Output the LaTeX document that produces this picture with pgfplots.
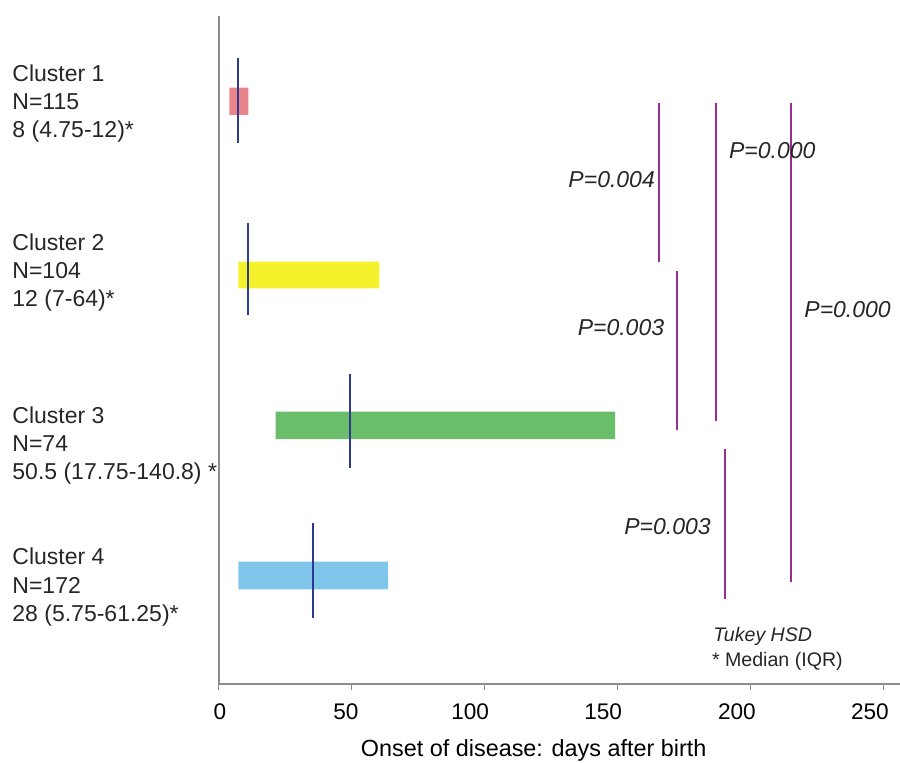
\documentclass[border=0pt]{standalone}
\usepackage{fontspec}
\setmainfont{Liberation Sans}
\usepackage{pgfplots}
\pgfplotsset{compat=1.18}
\definecolor{barA}{HTML}{E8848A}
\definecolor{barB}{HTML}{F5F22C}
\definecolor{barC}{HTML}{69BD6B}
\definecolor{barD}{HTML}{80C6EA}
\definecolor{medc}{HTML}{2E3A8E}
\definecolor{pcol}{HTML}{9B2D8F}
\definecolor{axc}{HTML}{8C8C8C}
\begin{document}
\begin{tikzpicture}
\useasboundingbox (-109.375pt,-39pt) rectangle (340.625pt,342pt);
\begin{axis}[
  at={(0,0)}, anchor=south west,
  scale only axis, width=340.625pt, height=334pt,
  xmin=0, xmax=256.1, ymin=0, ymax=668,
  axis x line*=bottom, axis y line*=left,
  axis line style={-, color=axc, line width=0.8pt},
  ytick=\empty,
  xtick={0,50,100,150,200,250}, xticklabels={},
  tick align=outside, major tick length=3pt,
  tick style={color=axc, line width=0.6pt},
  extra x ticks={0.47,47.8,94.5,144.5,194.8,244.8},
  extra x tick labels={0,50,100,150,200,250},
  extra x tick style={major tick length=0pt},
  /pgf/number format/assume math mode=true,
  xticklabel style={font=\fontsize{11.3}{13}\selectfont, anchor=center, yshift=-14pt},
  xlabel={Onset of disease: days after birth},
  xlabel style={font=\fontsize{11.7}{14}\selectfont, at={(axis description cs:0.4623,-0.0988)}, anchor=center},
  clip=false,
]
% IQR bars
\addplot[fill=barA, draw=none] coordinates {(3.97,569) (11.1,569) (11.1,596.3) (3.97,596.3) (3.97,569)};
\addplot[fill=barB, draw=none] coordinates {(7.35,395.7) (60.36,395.7) (60.36,422.3) (7.35,422.3) (7.35,395.7)};
\addplot[fill=barC, draw=none] coordinates {(21.4,245) (149.0,245) (149.0,272.3) (21.4,272.3) (21.4,245)};
\addplot[fill=barD, draw=none] coordinates {(7.35,94.7) (63.7,94.7) (63.7,122.3) (7.35,122.3) (7.35,94.7)};
% medians
\addplot[medc, line width=1pt] coordinates {(7.24,540.7) (7.24,625.7)};
\addplot[medc, line width=1pt] coordinates {(10.88,369) (10.88,460.7)};
\addplot[medc, line width=1pt] coordinates {(49.34,216.3) (49.34,309.7)};
\addplot[medc, line width=1pt] coordinates {(35.3,66.3) (35.3,160.7)};
% Tukey lines
\addplot[pcol, line width=1pt] coordinates {(165.4,422.3) (165.4,581.3)};
\addplot[pcol, line width=1pt] coordinates {(186.8,263) (186.8,581.3)};
\addplot[pcol, line width=1pt] coordinates {(215.1,102.3) (215.1,581.3)};
\addplot[pcol, line width=1pt] coordinates {(172.3,254) (172.3,413)};
\addplot[pcol, line width=1pt] coordinates {(190.3,84.7) (190.3,234.7)};
% P labels
\begin{scope}[every node/.style={font=\fontsize{11.5}{13}\selectfont\itshape, text=black!85}]
\node at (axis cs:147.7,504.7) {P=0.004};
\node at (axis cs:208.1,533) {P=0.000};
\node at (axis cs:236.4,374) {P=0.000};
\node at (axis cs:151.2,356) {P=0.003};
\node at (axis cs:168.7,157.3) {P=0.003};
\end{scope}
\node[anchor=west, font=\fontsize{9.8}{12}\selectfont\itshape, inner sep=0pt, text=black!85] at (axis cs:185.8,47.3) {Tukey HSD};
\node[anchor=west, font=\fontsize{9.8}{12}\selectfont, inner sep=0pt, text=black!85] at (axis cs:185.3,22.3) {* Median (IQR)};
% cluster labels
\begin{scope}[every node/.style={anchor=base west, inner sep=0pt, font=\fontsize{11.5}{14}\selectfont, text=black!85}]
\node at (axis cs:-77.7,602.7) {Cluster 1};
\node at (axis cs:-77.7,574.3) {N=115};
\node at (axis cs:-77.7,546) {8 (4.75-12)*};
\node at (axis cs:-77.7,433.5) {Cluster 2};
\node at (axis cs:-77.7,405.5) {N=104};
\node at (axis cs:-77.7,377.5) {12 (7-64)*};
\node at (axis cs:-77.7,261) {Cluster 3};
\node at (axis cs:-77.7,232.7) {N=74};
\node at (axis cs:-77.7,204.3) {50.5 (17.75-140.8) *};
\node at (axis cs:-77.7,119.3) {Cluster 4};
\node at (axis cs:-77.7,91) {N=172};
\node at (axis cs:-77.7,62.7) {28 (5.75-61.25)*};
\end{scope}
\end{axis}
\end{tikzpicture}
\end{document}
